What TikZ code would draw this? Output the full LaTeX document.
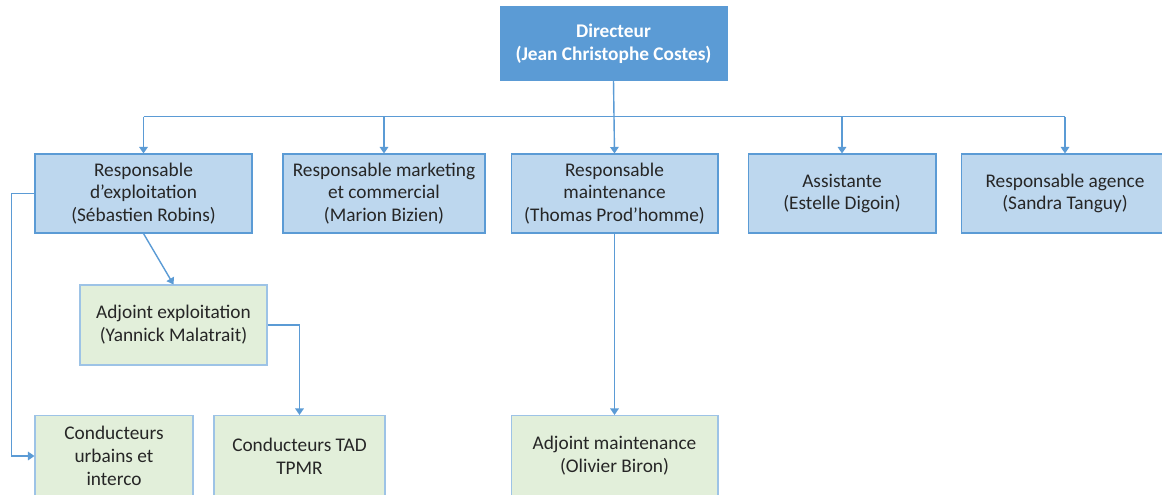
\documentclass[tikz,border=0pt]{standalone}
\usepackage{fontspec}
\setmainfont{Carlito}
\usepackage{tikz}
\usetikzlibrary{arrows.meta,positioning}

\definecolor{dirblue}{HTML}{5B9BD5}
\definecolor{boxblue}{HTML}{BDD7EE}
\definecolor{boxgreen}{HTML}{E2EFDA}
\definecolor{edgegreen}{HTML}{9DC3E6}
\definecolor{txtgray}{HTML}{262626}

\tikzset{
  unit/.style={draw=dirblue,line width=0.6pt,align=center,inner sep=0pt,
    font=\fontsize{11}{13}\selectfont,text=txtgray},
  headbox/.style={unit,fill=dirblue,text=white,font=\fontsize{11}{13}\selectfont\bfseries},
  chiefbox/.style={unit,fill=boxblue,minimum height=1.58cm},
  deputybox/.style={unit,fill=boxgreen,draw=edgegreen,minimum height=1.62cm},
  link/.style={draw=dirblue,line width=0.8pt,-{Triangle[length=1.3mm,width=1.7mm]}}
}

\begin{document}
\begin{tikzpicture}[x=0.02cm,y=-0.02cm]
    \useasboundingbox (0,0) rectangle (1162,494);
    \clip (0,0) rectangle (1162,494);

    \node [headbox,minimum width=4.54cm,minimum height=1.46cm] (dir) at (613.5,43.5) {Directeur\\(Jean Christophe Costes)};

    \begin{scope}[every node/.style={chiefbox}]
        \node [minimum width=4.34cm] (expl) at (143.5,193.5) {Responsable\\d’exploitation\\(Sébastien Robins)};
        \node [minimum width=4.04cm] (mkt) at (384,193.5) {Responsable marketing\\et commercial\\(Marion Bizien)};
        \node [minimum width=4.14cm] (maint) at (614.5,193.5) {Responsable\\maintenance\\(Thomas Prod’homme)};
        \node [minimum width=3.76cm] (asst) at (842,193.5) {Assistante\\(Estelle Digoin)};
        \node [minimum width=4.16cm] (agence) at (1065,193.5) {Responsable agence\\(Sandra Tanguy)};
    \end{scope}

    \begin{scope}[every node/.style={deputybox}]
        \node [minimum width=3.74cm,minimum height=1.6cm] (adjexpl) at (173.5,325) {Adjoint exploitation\\(Yannick Malatrait)};
        \node [minimum width=3.16cm] (condurb) at (114,456) {Conducteurs\\urbains et\\interco};
        \node [minimum width=3.42cm] (condtad) at (299.5,456) {Conducteurs TAD\\TPMR};
        \node [minimum width=4.14cm] (adjmaint) at (614.5,456) {Adjoint maintenance\\(Olivier Biron)};
    \end{scope}

    \path (dir.south) ++(0,36) coordinate (bus);

    \begin{scope}[every path/.style={link}]
        \draw (dir.south) -- (maint.north);
        \draw (bus -| expl.north) -- (expl.north);
        \draw (bus -| mkt.north) -- (mkt.north);
        \draw (bus -| asst.north) -- (asst.north);
        \draw (bus -| agence.north) -- (agence.north);
        \draw (expl.south) -- (adjexpl.north);
        \draw (adjexpl.east) -| (condtad.north);
        \draw (expl.west) -- ++(-23,0) |- (condurb.west);
        \draw (maint.south) -- (adjmaint.north);
    \end{scope}
    \draw [draw=dirblue,line width=0.8pt] (bus -| expl.north) -- (bus -| agence.north);
\end{tikzpicture}
\end{document}
